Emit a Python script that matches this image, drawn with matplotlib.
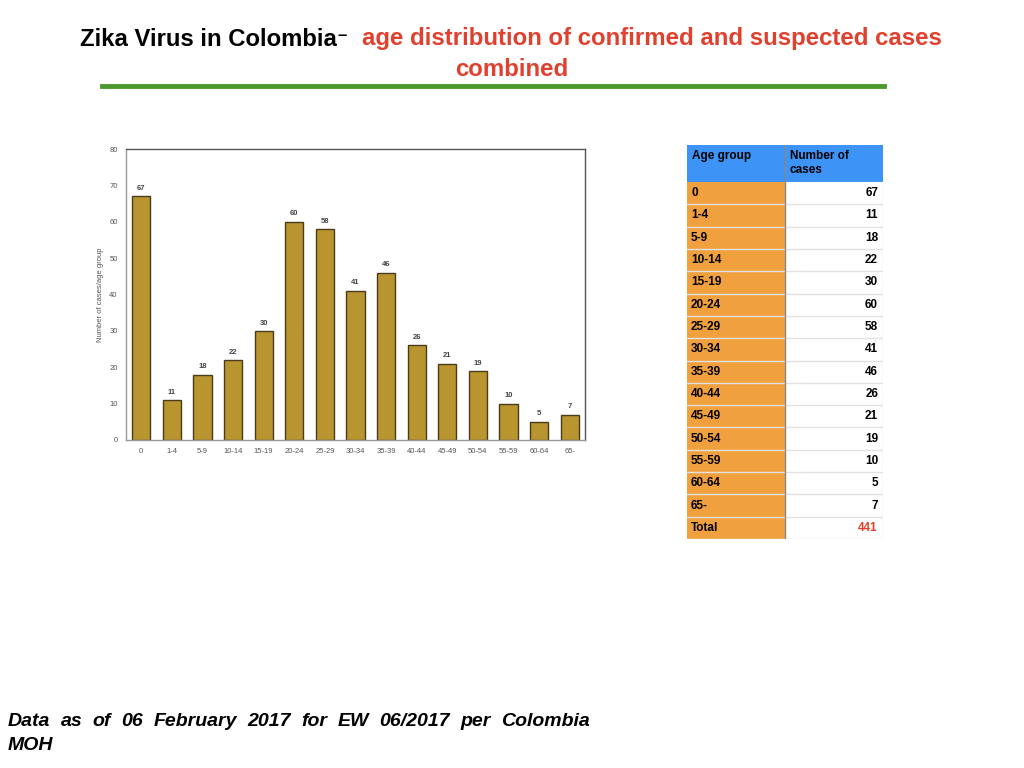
import matplotlib.pyplot as plt
from matplotlib.patches import Rectangle

ages = ['0', '1-4', '5-9', '10-14', '15-19', '20-24', '25-29', '30-34',
        '35-39', '40-44', '45-49', '50-54', '55-59', '60-64', '65-']
cases = [67, 11, 18, 22, 30, 60, 58, 41, 46, 26, 21, 19, 10, 5, 7]
total = 441

plt.rcParams['font.family'] = ['Liberation Sans', 'DejaVu Sans']

fig = plt.figure(figsize=(10.24, 7.68), dpi=100)

# title
fig.text(80/1024, 1-39/768, 'Zika Virus in Colombia', fontsize=17.2, fontweight='bold',
         color='black', ha='left', va='center')
fig.text(338/1024, 1-35/768, '–', fontsize=12, fontweight='bold', color='black',
         ha='left', va='center')
fig.text(362/1024, 1-39/768, 'age distribution of confirmed and suspected cases',
         fontsize=17.3, fontweight='bold', color='#E0412E', ha='left', va='center')
fig.text(512/1024, 1-70/768, 'combined', fontsize=17.3, fontweight='bold',
         color='#E0412E', ha='center', va='center')
fig.add_artist(plt.Line2D([102/1024, 884/1024], [1-86/768, 1-86/768],
                          color='#4A9A2E', lw=3.5))

# bar chart
ax = fig.add_axes([126/1024, 1-440/768, 459/1024, 291/768])
x = list(range(len(ages)))
bars = ax.bar(x, cases, width=0.6, color='#B8952F', edgecolor='#4A3C1A', linewidth=1)
for xi, v in zip(x, cases):
    ax.text(xi, v + 1.2, str(v), ha='center', va='bottom', fontsize=5.5,
            fontweight='bold', color='#444444')
ax.set_xlim(-0.5, 14.5)
ax.set_ylim(0, 80)
ax.set_yticks(range(0, 81, 10))
ax.set_xticks(x)
ax.set_xticklabels(ages)
ax.tick_params(length=0, labelsize=5.5, colors='#555555', pad=6)
ax.set_ylabel('Number of cases/age group', fontsize=5.5, color='#555555', labelpad=4)
for s in ax.spines.values():
    s.set_color('#555555')
    s.set_linewidth(1)
ax.spines['left'].set_color('#999999')
ax.spines['bottom'].set_color('#999999')

# table
tx0, ty0, tw, th = 687, 145, 196, 394
axt = fig.add_axes([tx0/1024, 1-(ty0+th)/768, tw/1024, th/768])
axt.set_xlim(0, tw)
axt.set_ylim(th, 0)
axt.axis('off')
c1 = 98
hh = 37
rh = (th - hh) / 16
axt.add_patch(Rectangle((0, 0), tw, hh, facecolor='#3D94F6', edgecolor='none'))
axt.text(5, 11, 'Age group', fontsize=8.5, fontweight='bold', va='center', ha='left')
axt.text(c1 + 5, 11, 'Number of', fontsize=8.5, fontweight='bold', va='center', ha='left')
axt.text(c1 + 5, 25, 'cases', fontsize=8.5, fontweight='bold', va='center', ha='left')
rows = list(zip(ages, [str(c) for c in cases])) + [('Total', str(total))]
for i, (a, c) in enumerate(rows):
    y = hh + i * rh
    axt.add_patch(Rectangle((0, y), c1, rh, facecolor='#F0A03C', edgecolor='none'))
    axt.add_patch(Rectangle((c1, y), tw - c1, rh, facecolor='white', edgecolor='none'))
    if i > 0:
        axt.plot([0, tw], [y, y], color='#E2E2E2', lw=1)
    axt.text(4, y + rh/2, a, fontsize=8.5, fontweight='bold', va='center', ha='left')
    col = '#E0412E' if a == 'Total' else 'black'
    axt.text(tw - 5, y + rh/2, c, fontsize=8.5, fontweight='bold', va='center',
             ha='right', color=col)
axt.plot([0, tw], [th, th], color='#E2E2E2', lw=1)
axt.plot([tw, tw], [hh, th], color='#E2E2E2', lw=1)
axt.plot([c1, c1], [0, th], color='#888888', lw=1)

# footer, justified first line
words = 'Data as of 06 February 2017 for EW 06/2017 per Colombia'.split()
fig.canvas.draw()
r = fig.canvas.get_renderer()
arts = [fig.text(0, 1-721/768, w, fontsize=14, fontweight='bold', style='italic',
                 va='center', ha='left') for w in words]
widths = [a.get_window_extent(r).width for a in arts]
x_left, x_right = 8, 590
gap = (x_right - x_left - sum(widths)) / (len(words) - 1)
pos = x_left
for a, w in zip(arts, widths):
    a.set_x(pos/1024)
    pos += w + gap
fig.text(8/1024, 1-745/768, 'MOH', fontsize=14, fontweight='bold', style='italic',
         va='center', ha='left')

fig.savefig('out.png', dpi=100)
